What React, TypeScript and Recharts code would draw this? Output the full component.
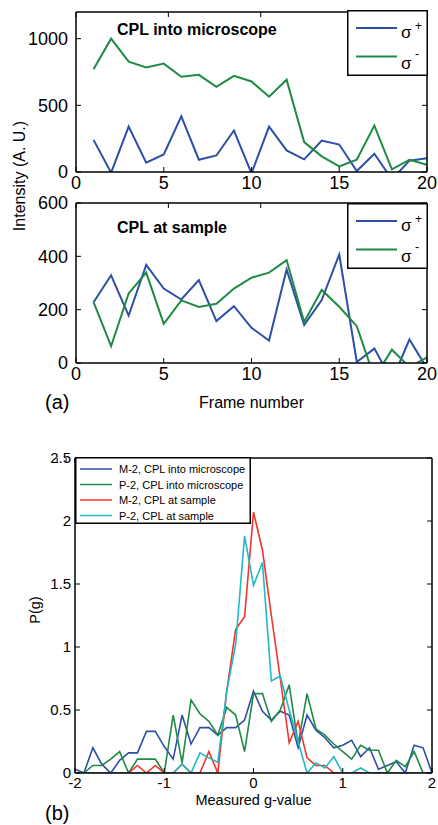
import React from "react";
import { LineChart, Line, XAxis, YAxis, Legend } from "recharts";

// (a) frame series
const frames = [1, 2, 3, 4, 5, 6, 7, 8, 9, 10, 11, 12, 13, 14, 15, 16, 17, 18, 19, 20];
const frameTicks = [0, 5, 10, 15, 20];

const intoPlus = [241, -5, 341, 70, 132, 418, 92, 124, 311, -10, 341, 162, 95, 236, 206, 7, 137, -55, 85, 103];
const intoMinus = [771, 1000, 828, 784, 813, 714, 729, 639, 721, 679, 565, 692, 224, 117, 42, 92, 348, 20, 92, 55];
const intoTicks = [0, 500, 1000];

const samplePlus = [228, 329, 178, 368, 279, 238, 311, 157, 213, 132, 84, 351, 142, 236, 407, 4, 54, -65, 88, -20];
const sampleMinus = [228, 63, 261, 339, 147, 235, 210, 222, 279, 320, 339, 386, 154, 274, 211, 138, -55, 50, -15, 21];
const sampleTicks = [0, 200, 400, 600];

// (b) g-value histograms
const gValues = [
  -2.0, -1.9, -1.8, -1.7, -1.6, -1.5, -1.4, -1.3, -1.2, -1.1, -1.0, -0.9, -0.8, -0.7,
  -0.6, -0.5, -0.4, -0.3, -0.2, -0.1, 0.0, 0.1, 0.2, 0.3, 0.4, 0.5, 0.6, 0.7, 0.8,
  0.9, 1.0, 1.1, 1.2, 1.3, 1.4, 1.5, 1.6, 1.7, 1.8, 1.9, 2.0,
];
const m2Into = [
  0.03, 0, 0.2, 0.07, 0, 0.1, 0.16, 0.16, 0.33, 0.33, 0.21, 0.11, 0.46, 0.23,
  0.36, 0.36, 0.3, 0.36, 0.36, 0.42, 0.65, 0.49, 0.42, 0.49, 0.46, 0.2, 0.46, 0.34, 0.28,
  0.2, 0.22, 0.26, 0.13, 0.2, 0.03, 0.06, 0.09, 0, 0.22, 0.2, 0,
];
const p2Into = [
  0, 0, 0.06, 0.06, 0.11, 0.17, 0, 0.11, 0.11, 0.11, 0, 0.46, 0.08, 0.58,
  0.47, 0.41, 0.3, 0.52, 0.46, 0.17, 0.63, 0.63, 0.41, 0.5, 0.7, 0.23, 0.63, 0.35, 0.3,
  0.23, 0.17, 0.11, 0.22, 0.18, 0.18, 0, 0.1, 0.05, 0.17, 0, 0,
];
const m2Sample = [
  0, 0, 0, 0, 0, 0, 0, 0.06, 0, 0.06, 0, 0, 0.07, 0,
  0, 0.17, 0, 0.65, 1.14, 1.24, 2.07, 1.77, 1.25, 0.75, 0.24, 0.41, 0.12, 0.06, 0.06,
  0, 0, 0, 0, 0, 0, 0, 0, 0, 0, 0, 0,
];
const p2Sample = [
  0, 0, 0, 0, 0, 0, 0, 0, 0, 0, 0, 0, 0.07, 0,
  0.16, 0.12, 0.085, 0.65, 1.02, 1.88, 1.49, 1.67, 0.73, 0.77, 0.5, 0.25, 0, 0.08, 0.04,
  0.13, 0, 0, 0.04, 0, 0, 0, 0, 0, 0, 0, 0,
];
const gTicks = [-2, -1, 0, 1, 2];
const pTicks = [0, 0.5, 1, 1.5, 2, 2.5];

const FONT = "'Liberation Sans', Arial, Helvetica, sans-serif";
const BLUE = "#2e4fa6";
const GREEN = "#1e8a44";
const RED = "#f2332b";
const CYAN = "#22b9c4";

const sigmaSeries = [
  { key: "plus", sup: "+", color: BLUE },
  { key: "minus", sup: "-", color: GREEN },
];

const gSeries = [
  { key: "m2Into", name: "M-2, CPL into microscope", color: BLUE },
  { key: "p2Into", name: "P-2, CPL into microscope", color: GREEN },
  { key: "m2Sample", name: "M-2, CPL at sample", color: RED },
  { key: "p2Sample", name: "P-2, CPL at sample", color: CYAN },
];

const intoData = frames.map((f, i) => ({ frame: f, plus: intoPlus[i], minus: intoMinus[i] }));
const sampleData = frames.map((f, i) => ({ frame: f, plus: samplePlus[i], minus: sampleMinus[i] }));
const gData = gValues.map((g, i) => ({
  g,
  m2Into: m2Into[i],
  p2Into: p2Into[i],
  m2Sample: m2Sample[i],
  p2Sample: p2Sample[i],
}));

const noTick = () => null;

function SigmaLegend() {
  return (
    <svg width={81} height={66} style={{ display: "block" }}>
      <rect x={0.75} y={0.75} width={79.5} height={64.5} fill="#fff" stroke="#000" strokeWidth={1.5} />
      {sigmaSeries.map((s, i) => (
        <g key={s.key} fontFamily={FONT} fill="#000">
          <line x1={9} x2={50} y1={18 + i * 28.5} y2={18 + i * 28.5} stroke={s.color} strokeWidth={2} />
          <text x={54} y={27.5 + i * 31} fontSize={17}>σ</text>
          <text x={68} y={19.5 + i * 28} fontSize={12}>{s.sup}</text>
        </g>
      ))}
    </svg>
  );
}

function GLegend() {
  return (
    <svg width={176} height={67} style={{ display: "block" }}>
      <rect x={0.75} y={0.75} width={174.5} height={65.5} fill="#fff" stroke="#000" strokeWidth={1.5} />
      {gSeries.map((s, i) => (
        <g key={s.key}>
          <line x1={5} x2={37} y1={12 + i * 15.5} y2={12 + i * 15.5} stroke={s.color} strokeWidth={1.5} />
          <text x={44} y={16 + i * 15.5} fontSize={11} fontFamily={FONT} fill="#000">
            {s.name}
          </text>
        </g>
      ))}
    </svg>
  );
}

const bigTick = { fontSize: 18, fill: "#000", fontFamily: FONT };
const smallTick = { fontSize: 15, fill: "#000", fontFamily: FONT };

function FramePanel({ data, yMax, yTicks, top, height, margin, legendTop, xLabel }: any) {
  return (
    <div style={{ position: "absolute", left: 0, top }}>
      <LineChart width={438} height={height} data={data} margin={margin}>
        <XAxis
          dataKey="frame"
          type="number"
          domain={[0, 20]}
          ticks={frameTicks}
          allowDataOverflow
          height={xLabel ? 45 : 24}
          tickSize={-5}
          tickMargin={9}
          stroke="#000"
          axisLine={{ stroke: "#000", strokeWidth: 1.5 }}
          tick={bigTick}
          interval={0}
          label={
            xLabel
              ? { value: xLabel, position: "insideBottom", offset: 0, fontSize: 16, fill: "#000", fontFamily: FONT }
              : undefined
          }
        />
        <XAxis
          xAxisId="top"
          orientation="top"
          type="number"
          domain={[0, 20]}
          ticks={frameTicks}
          allowDataOverflow
          height={1}
          tickSize={-5}
          stroke="#000"
          axisLine={{ stroke: "#000", strokeWidth: 1.5 }}
          tick={noTick}
          interval={0}
        />
        <YAxis
          type="number"
          domain={[0, yMax]}
          ticks={yTicks}
          allowDataOverflow
          width={76}
          tickSize={-5}
          tickMargin={13}
          stroke="#000"
          axisLine={{ stroke: "#000", strokeWidth: 1.5 }}
          tick={bigTick}
          interval={0}
        />
        <YAxis
          yAxisId="right"
          orientation="right"
          type="number"
          domain={[0, yMax]}
          ticks={yTicks}
          allowDataOverflow
          width={1}
          tickSize={-5}
          stroke="#000"
          axisLine={{ stroke: "#000", strokeWidth: 1.5 }}
          tick={noTick}
          interval={0}
        />
        {sigmaSeries.map((s) => (
          <Line
            key={s.key}
            type="linear"
            dataKey={s.key}
            stroke={s.color}
            strokeWidth={2}
            dot={false}
            isAnimationActive={false}
          />
        ))}
        <Legend
          layout="horizontal"
          verticalAlign="middle"
          align="center"
          content={() => <SigmaLegend />}
          wrapperStyle={{ left: 347, top: legendTop, width: 81, height: 66 }}
        />
      </LineChart>
    </div>
  );
}

export default function App() {
  return (
    <div style={{ position: "absolute", left: 0, top: 0, width: 438, height: 825, background: "#fff" }}>
      <FramePanel
        data={intoData}
        yMax={1200}
        yTicks={intoTicks}
        top={0}
        height={200}
        margin={{ top: 11, right: 10, bottom: 4, left: 0 }}
        legendTop={10}
      />
      <FramePanel
        data={sampleData}
        yMax={600}
        yTicks={sampleTicks}
        top={190}
        height={230}
        margin={{ top: 12, right: 10, bottom: 12, left: 0 }}
        legendTop={13}
        xLabel="Frame number"
      />

      <div style={{ position: "absolute", left: 0, top: 440 }}>
        <LineChart width={438} height={385} data={gData} margin={{ top: 17, right: 5, bottom: 20, left: 0 }}>
          <XAxis
            dataKey="g"
            type="number"
            domain={[-2, 2]}
            ticks={gTicks}
            allowDataOverflow
            height={32}
            tickSize={-5}
            tickMargin={9}
            stroke="#000"
            axisLine={{ stroke: "#000", strokeWidth: 1.5 }}
            tick={smallTick}
            interval={0}
            label={{ value: "Measured g-value", position: "insideBottom", offset: 0, fontSize: 14.5, fill: "#000", fontFamily: FONT }}
          />
          <XAxis
            xAxisId="top"
            orientation="top"
            type="number"
            domain={[-2, 2]}
            ticks={gTicks}
            allowDataOverflow
            height={1}
            tickSize={-5}
            stroke="#000"
            axisLine={{ stroke: "#000", strokeWidth: 1.5 }}
            tick={noTick}
            interval={0}
          />
          <YAxis
            type="number"
            domain={[0, 2.5]}
            ticks={pTicks}
            allowDataOverflow
            width={75}
            tickSize={-5}
            tickMargin={9}
            stroke="#000"
            axisLine={{ stroke: "#000", strokeWidth: 1.5 }}
            tick={smallTick}
            interval={0}
          />
          <YAxis
            yAxisId="right"
            orientation="right"
            type="number"
            domain={[0, 2.5]}
            ticks={pTicks}
            allowDataOverflow
            width={1}
            tickSize={-5}
            stroke="#000"
            axisLine={{ stroke: "#000", strokeWidth: 1.5 }}
            tick={noTick}
            interval={0}
          />
          {gSeries.map((s) => (
            <Line
              key={s.key}
              type="linear"
              dataKey={s.key}
              name={s.name}
              stroke={s.color}
              strokeWidth={1.6}
              dot={false}
              isAnimationActive={false}
            />
          ))}
          <Legend
            layout="horizontal"
            verticalAlign="middle"
            align="center"
            content={() => <GLegend />}
            wrapperStyle={{ left: 75, top: 17, width: 176, height: 67 }}
          />
        </LineChart>
      </div>

      <svg
        width={438}
        height={825}
        style={{ position: "absolute", left: 0, top: 0, pointerEvents: "none" }}
        fontFamily={FONT}
        fill="#000"
      >
        <text x={117} y={35} fontSize={16} fontWeight="bold">CPL into microscope</text>
        <text x={117} y={233} fontSize={16} fontWeight="bold">CPL at sample</text>
        <text x={25} y={176} fontSize={16} textAnchor="middle" transform="rotate(-90 25 176)">
          Intensity (A. U.)
        </text>
        <text x={40} y={610} fontSize={14.5} textAnchor="middle" transform="rotate(-90 40 610)">
          P(g)
        </text>
        <text x={45} y={409} fontSize={20}>(a)</text>
        <text x={45} y={820} fontSize={20}>(b)</text>
      </svg>
    </div>
  );
}
